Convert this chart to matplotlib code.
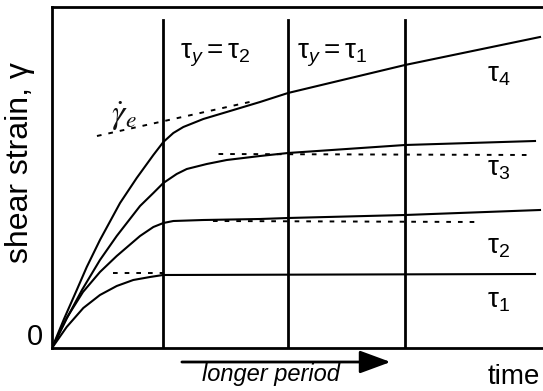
import matplotlib
matplotlib.use("Agg")
import matplotlib.pyplot as plt

plt.rcParams['font.family'] = ['Liberation Sans', 'DejaVu Sans']
plt.rcParams['mathtext.fontset'] = 'custom'
plt.rcParams['mathtext.rm'] = 'Liberation Sans'
plt.rcParams['mathtext.it'] = 'Liberation Sans:italic'

# curves (time, shear strain), arbitrary units
t_tau4 = [0, 0.108, 0.223, 0.313, 0.432, 0.613, 0.763, 0.913, 1.003, 1.093, 1.183,
          1.363, 1.574, 1.874, 2.126, 3.18, 4.396]
g_tau4 = [0, 0.29, 0.58, 0.81, 1.08, 1.45, 1.70, 1.93, 2.06, 2.15, 2.21,
          2.29, 2.36, 2.46, 2.55, 2.83, 3.11]

t_tau3 = [0, 0.135, 0.270, 0.432, 0.583, 0.793, 0.913, 1.003, 1.123, 1.214,
          1.394, 1.574, 1.874, 2.126, 3.18, 4.351]
g_tau3 = [0, 0.30, 0.58, 0.88, 1.12, 1.42, 1.55, 1.65, 1.74, 1.79,
          1.84, 1.88, 1.92, 1.95, 2.03, 2.07]

t_tau2 = [0, 0.132, 0.279, 0.432, 0.583, 0.730, 0.793, 0.913, 1.003, 1.093,
          1.363, 1.874, 2.126, 3.18, 4.396]
g_tau2 = [0, 0.30, 0.56, 0.76, 0.92, 1.06, 1.12, 1.21, 1.25, 1.27,
          1.28, 1.29, 1.30, 1.33, 1.38]

t_tau1 = [0, 0.132, 0.282, 0.432, 0.583, 0.732, 0.883, 1.0, 4.351]
g_tau1 = [0, 0.21, 0.40, 0.53, 0.62, 0.68, 0.71, 0.73, 0.74]

# dashed tangents
dash_t = [[0.405, 1.78], [1.50, 4.31], [1.45, 3.84], [0.55, 1.0]]
dash_g = [[2.12, 2.46], [1.94, 1.93], [1.27, 1.26], [0.75, 0.75]]

# vertical period lines
periods = [1.0, 2.13, 3.18]
period_top = 3.28

fig = plt.figure(figsize=(5.43, 3.91), dpi=100)
ax = fig.add_axes([52 / 543, 43 / 391, 1 - 52 / 543, (348 - 7) / 391])
ax.set_xlim(0, 4.423)
ax.set_ylim(0, 3.41)

for t, g in [(t_tau4, g_tau4), (t_tau3, g_tau3), (t_tau2, g_tau2), (t_tau1, g_tau1)]:
    ax.plot(t, g, color='black', lw=1.5, solid_joinstyle='round')

for t, g in zip(dash_t, dash_g):
    ax.plot(t, g, color='black', lw=1.4, linestyle=(0, (2.4, 3.6)))

for p in periods:
    ax.plot([p, p], [0, period_top], color='black', lw=2)

ax.spines['right'].set_visible(False)
for s in ['left', 'top', 'bottom']:
    ax.spines[s].set_linewidth(2)
ax.set_xticks([])
ax.set_yticks([])

tex = dict(fontsize=20, color='black', va='baseline', ha='left')
ax.text(1.15, 2.90, r'$\mathrm{\tau}_{y} = \mathrm{\tau}_{2}$', **tex)
ax.text(2.21, 2.90, r'$\mathrm{\tau}_{y} = \mathrm{\tau}_{1}$', **tex)
ax.text(3.92, 2.66, r'$\mathrm{\tau}_{4}$', **tex)
ax.text(3.92, 1.73, r'$\mathrm{\tau}_{3}$', **tex)
ax.text(3.92, 0.95, r'$\mathrm{\tau}_{2}$', **tex)
ax.text(3.92, 0.41, r'$\mathrm{\tau}_{1}$', **tex)
ax.text(0.53, 2.32, r'$\dot{\gamma}_e$', fontsize=24, color='#111111',
        math_fontfamily='stix', va='center')

ax.text(-0.08, 0.11, '0', fontsize=21, ha='right', va='center', clip_on=False)
ax.text(-0.29, 1.85, 'shear strain, γ', fontsize=23, rotation=90,
        ha='center', va='center', clip_on=False)
ax.text(3.92, -0.29, 'time', fontsize=20, ha='left', va='center', clip_on=False)
ax.text(1.97, -0.27, 'longer period', fontsize=17, style='italic',
        ha='center', va='center', clip_on=False)
ax.annotate('', xy=(3.05, -0.14), xytext=(1.17, -0.14), annotation_clip=False,
            arrowprops=dict(arrowstyle='-|>,head_length=1.9,head_width=0.7',
                            color='black', lw=2, shrinkA=0, shrinkB=0))

plt.savefig("out.png", dpi=100)
